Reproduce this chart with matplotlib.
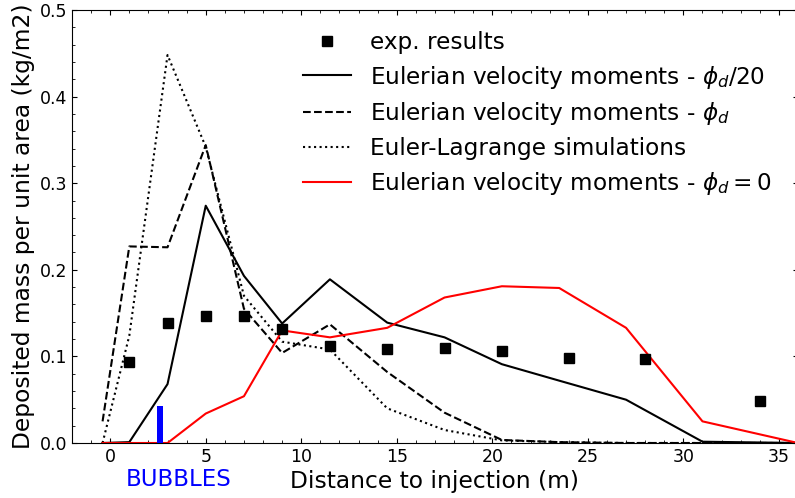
import matplotlib
matplotlib.use("Agg")
import matplotlib.pyplot as plt
from matplotlib.ticker import MultipleLocator
import matplotlib.transforms as mtransforms

# experimental data
exp_x = [1, 3, 5, 7, 9, 11.5, 14.5, 17.5, 20.5, 24, 28, 34]
exp_y = [0.094, 0.138, 0.147, 0.147, 0.132, 0.112, 0.109, 0.110, 0.106, 0.098, 0.097, 0.048]

# simulation grid
sim_x = [-0.4, 1, 3, 5, 7, 9, 11.5, 14.5, 17.5, 20.5, 23.5, 27, 31, 36]
euler_d20 = [0.0, 0.001, 0.068, 0.274, 0.193, 0.138, 0.189, 0.139, 0.122, 0.091, 0.072, 0.050, 0.0015, 0.0]
euler_d = [0.025, 0.227, 0.226, 0.344, 0.155, 0.104, 0.137, 0.082, 0.035, 0.0035, 0.001, 0.0, 0.0, 0.0]
euler_lag = [0.0, 0.124, 0.448, 0.342, 0.170, 0.117, 0.108, 0.040, 0.015, 0.003, 0.001, 0.0, 0.0, 0.0]
euler_0 = [0.0, 0.0, 0.0, 0.034, 0.054, 0.130, 0.122, 0.133, 0.168, 0.181, 0.179, 0.133, 0.025, 0.0]

bubble_x = [2.6]
bubble_h = [0.043]

labels = ["exp. results",
          r"Eulerian velocity moments - $\phi_d/20$",
          r"Eulerian velocity moments - $\phi_d$",
          "Euler-Lagrange simulations",
          r"Eulerian velocity moments - $\phi_d = 0$"]

fig = plt.figure(figsize=(7.95, 4.98), dpi=100)
ax = fig.add_axes([72/795, 55/498, 726/795, 433/498])

ax.plot(exp_x, exp_y, 's', color='black', ms=6.5, label=labels[0], zorder=5)
ax.plot(sim_x, euler_d20, '-', color='black', lw=1.5, label=labels[1])
ax.plot(sim_x, euler_d, '--', color='black', lw=1.5, label=labels[2])
ax.plot(sim_x, euler_lag, ':', color='black', lw=1.5, label=labels[3])
ax.plot(sim_x, euler_0, '-', color='red', lw=1.5, label=labels[4])
ax.bar(bubble_x, bubble_h, width=0.3, color='blue', zorder=4)

trans = mtransforms.blended_transform_factory(ax.transData, ax.transAxes)
ax.text(3.6, -0.084, "BUBBLES", color='blue', fontsize=16.5, ha='center', va='center', transform=trans)

ax.set_xlim(-2, 36)
ax.set_ylim(0, 0.5)
ax.xaxis.set_major_locator(MultipleLocator(5))
ax.xaxis.set_minor_locator(MultipleLocator(1))
ax.yaxis.set_major_locator(MultipleLocator(0.1))
ax.yaxis.set_minor_locator(MultipleLocator(0.02))
ax.tick_params(which='both', direction='in', top=True, right=True, labelsize=12.5)
ax.set_xlabel("Distance to injection (m)", fontsize=16.8, labelpad=3)
ax.set_ylabel("Deposited mass per unit area (kg/m2)", fontsize=16.8, labelpad=3)

ax.legend(loc='upper left', bbox_to_anchor=(293.5/795, 1 - 21.5/498), bbox_transform=fig.transFigure,
          frameon=False, fontsize=16.7, handlelength=2.1, labelspacing=0.42, borderaxespad=0)

fig.savefig("out.png", dpi=100)
